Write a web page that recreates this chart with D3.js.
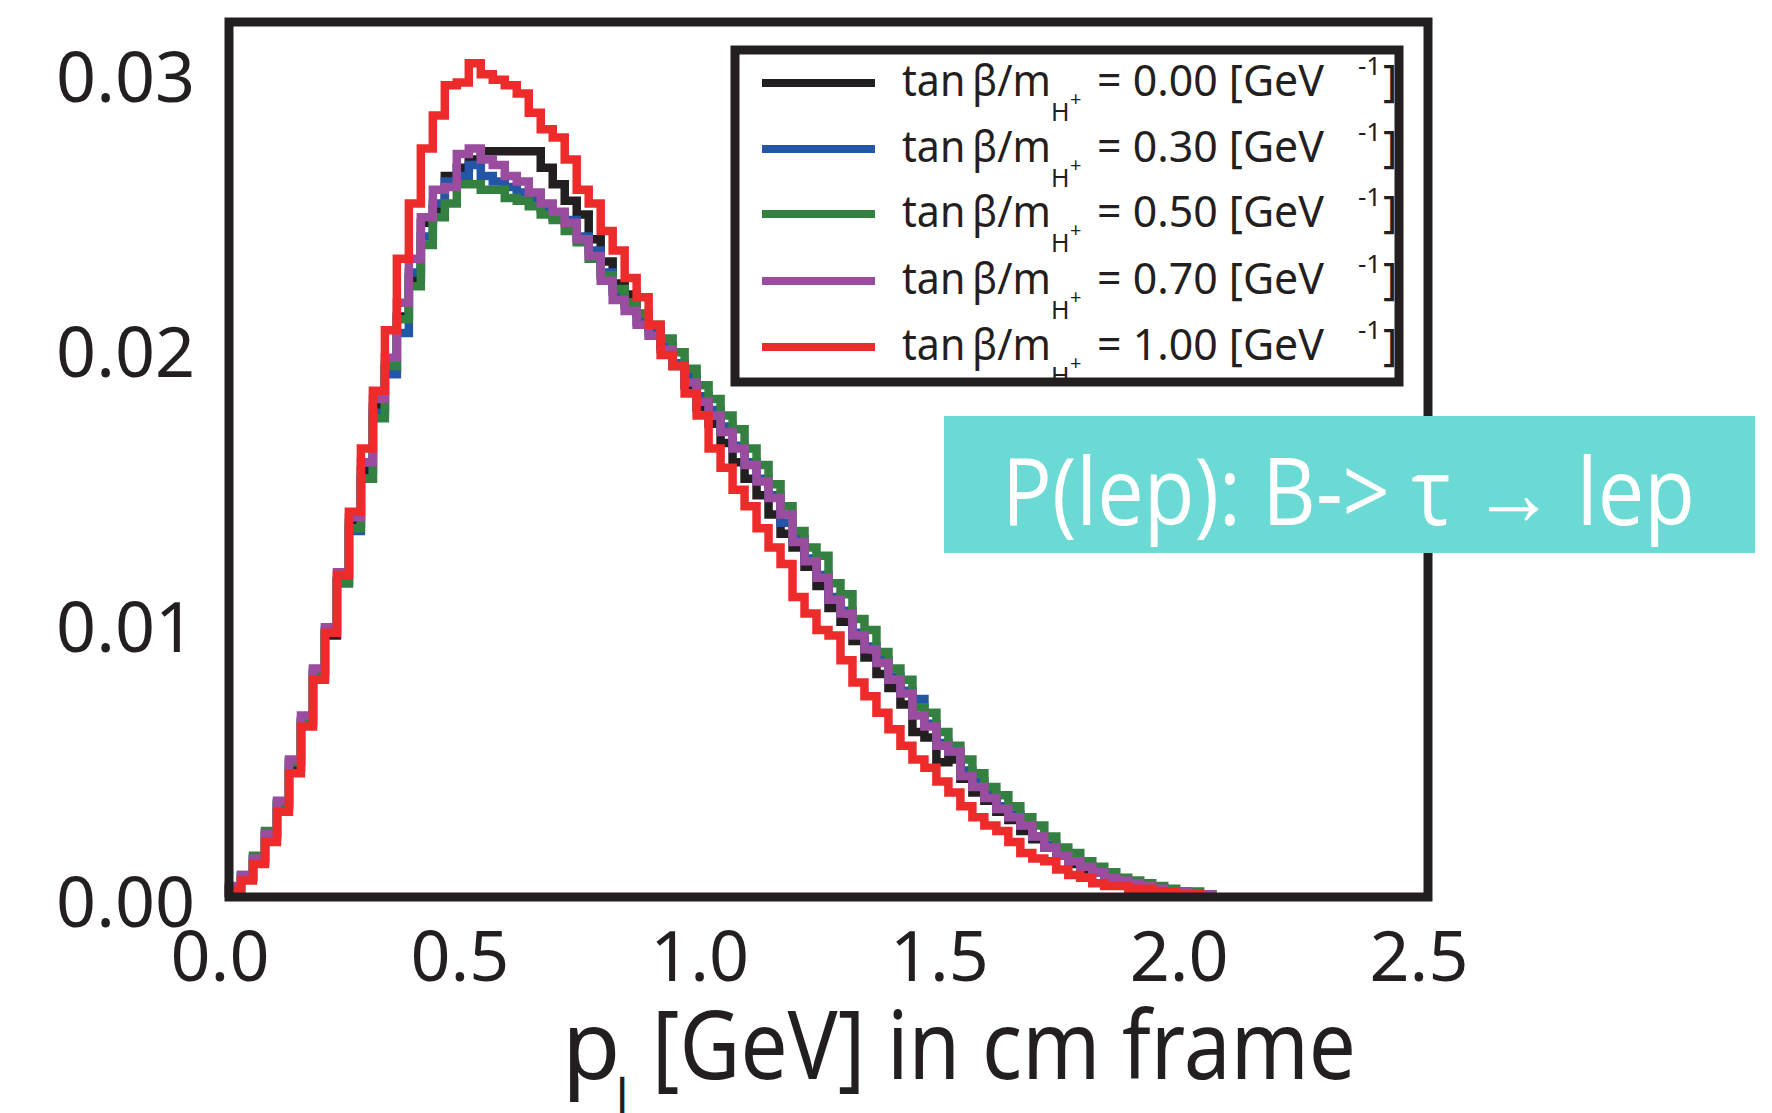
<!DOCTYPE html>
<html>
<head>
<meta charset="utf-8">
<script src="https://cdnjs.cloudflare.com/ajax/libs/d3/7.8.5/d3.min.js"></script>
<style>
  body { margin: 0; background: #fff; }
  svg { display: block; }
</style>
</head>
<body>
<div id="chart"></div>
<script>
'use strict';

// histogram bins: 0.025 GeV wide, starting at 0
const binWidth = 0.025;
const xTicks = [0, 0.5, 1.0, 1.5, 2.0, 2.5];
const yTicks = [0, 0.01, 0.02, 0.03];
const couplings = ['0.00', '0.30', '0.50', '0.70', '1.00'];
const colors = ['#231f20', '#2356a6', '#338041', '#9a4c9f', '#ee2b2b'];

// normalised p_l distributions, one per tanb/mH+
const h000 = [0.0003,0.0007,0.0013,0.0022,0.0033,0.0047,0.0063,0.0080,0.0095,0.0115,
  0.0136,0.0155,0.0178,0.0192,0.0211,0.0225,0.0245,0.0250,0.0262,0.0265,
  0.0268,0.0271,0.0271,0.0271,0.0271,0.0271,0.0265,0.0259,0.0253,0.0248,
  0.0239,0.0231,0.0223,0.0219,0.0212,0.0207,0.0200,0.0193,0.0186,0.0178,
  0.0172,0.0165,0.0158,0.0152,0.0146,0.0139,0.0132,0.0127,0.0120,0.0113,
  0.0105,0.0100,0.0093,0.0087,0.0081,0.0076,0.0070,0.0060,0.0058,0.0049,
  0.0050,0.0043,0.0038,0.0035,0.0031,0.0028,0.0024,0.0021,0.0018,0.0015,
  0.0012,0.0010,0.0009,0.0007,0.0005,0.0004,0.0003,0.0003,0.0002,0.0001,
  0.0001];
const h030 = [0.0003,0.0007,0.0014,0.0023,0.0034,0.0049,0.0064,0.0082,0.0097,0.0114,
  0.0133,0.0152,0.0176,0.0190,0.0205,0.0227,0.0240,0.0252,0.0260,0.0262,
  0.0266,0.0262,0.0260,0.0258,0.0256,0.0254,0.0250,0.0247,0.0246,0.0240,
  0.0235,0.0227,0.0220,0.0215,0.0209,0.0205,0.0200,0.0194,0.0189,0.0182,
  0.0177,0.0171,0.0164,0.0158,0.0152,0.0146,0.0136,0.0130,0.0123,0.0117,
  0.0109,0.0104,0.0096,0.0091,0.0086,0.0080,0.0075,0.0072,0.0063,0.0056,
  0.0053,0.0046,0.0042,0.0037,0.0033,0.0030,0.0026,0.0022,0.0019,0.0016,
  0.0013,0.0011,0.0009,0.0007,0.0006,0.0005,0.0004,0.0003,0.0002,0.0002,
  0.0001,0.0001];
const h050 = [0.0003,0.0008,0.0015,0.0024,0.0034,0.0049,0.0064,0.0081,0.0096,0.0114,
  0.0134,0.0152,0.0174,0.0193,0.0210,0.0222,0.0237,0.0247,0.0252,0.0259,
  0.0259,0.0257,0.0257,0.0254,0.0253,0.0251,0.0248,0.0246,0.0242,0.0238,
  0.0232,0.0226,0.0221,0.0216,0.0212,0.0208,0.0203,0.0198,0.0192,0.0186,
  0.0181,0.0175,0.0170,0.0163,0.0157,0.0150,0.0142,0.0133,0.0127,0.0124,
  0.0114,0.0110,0.0101,0.0097,0.0089,0.0083,0.0079,0.0069,0.0067,0.0060,
  0.0055,0.0050,0.0045,0.0040,0.0037,0.0033,0.0029,0.0026,0.0022,0.0018,
  0.0016,0.0013,0.0011,0.0009,0.0007,0.0006,0.0005,0.0004,0.0003,0.0002,
  0.0002,0.0001];
const h070 = [0.0004,0.0008,0.0014,0.0023,0.0035,0.0050,0.0066,0.0083,0.0098,0.0118,
  0.0138,0.0158,0.0181,0.0196,0.0216,0.0232,0.0247,0.0257,0.0258,0.0270,
  0.0272,0.0268,0.0266,0.0262,0.0260,0.0256,0.0252,0.0249,0.0245,0.0239,
  0.0233,0.0224,0.0217,0.0213,0.0208,0.0204,0.0199,0.0193,0.0187,0.0180,
  0.0175,0.0169,0.0163,0.0157,0.0151,0.0145,0.0139,0.0129,0.0122,0.0116,
  0.0108,0.0103,0.0095,0.0090,0.0085,0.0079,0.0074,0.0066,0.0062,0.0055,
  0.0053,0.0044,0.0040,0.0036,0.0032,0.0029,0.0026,0.0022,0.0018,0.0015,
  0.0013,0.0011,0.0009,0.0007,0.0006,0.0005,0.0004,0.0003,0.0002,0.0002,
  0.0001,0.0001];
const h100 = [0.00025,0.0006,0.0012,0.0020,0.0031,0.0045,0.0062,0.0079,0.0096,0.0117,
  0.0140,0.0163,0.0184,0.0206,0.0232,0.0252,0.0272,0.0284,0.0295,0.0296,
  0.0303,0.0299,0.0297,0.0295,0.0292,0.0285,0.0279,0.0276,0.0268,0.0257,
  0.0252,0.0242,0.0235,0.0225,0.0218,0.0208,0.0197,0.0193,0.0183,0.0175,
  0.0163,0.0156,0.0148,0.0142,0.0134,0.0127,0.0121,0.0109,0.0103,0.0097,
  0.0095,0.0086,0.0078,0.0073,0.0067,0.0061,0.0055,0.0050,0.0047,0.0042,
  0.0038,0.0033,0.0029,0.0026,0.0024,0.0020,0.0016,0.0014,0.0013,0.0010,
  0.0008,0.0007,0.0005,0.0004,0.0004,0.0003,0.0003,0.0002,0.0002,0.0001,
  0.0001];

const hists = [h000, h030, h050, h070, h100];

(function() {
    var W = 1772, H = 1113;
    var font = '"Noto Sans", "Open Sans", sans-serif';

    var svg = d3.select('#chart').append('svg')
        .attr('width', W)
        .attr('height', H);

    svg.append('rect').attr('width', W).attr('height', H).attr('fill', '#fff');

    var x = d3.scaleLinear().domain([0, 2.5]).range([229, 1428]);
    var y = d3.scaleLinear().domain([0, 0.0318]).range([897, 22]);

    // step outline for one histogram
    var line = d3.line()
        .x(function(d) { return x(d[0]); })
        .y(function(d) { return y(d[1]); })
        .curve(d3.curveStepAfter);

    function outline(vals) {
        var pts = [[0, 0]];
        vals.forEach(function(v, i) { pts.push([i * binWidth, v]); });
        pts.push([vals.length * binWidth, 0]);
        return pts;
    }

    var plot = svg.append('g');
    hists.forEach(function(vals, k) {
        plot.append('path')
            .attr('d', line(outline(vals)))
            .attr('fill', 'none')
            .attr('stroke', colors[k])
            .attr('stroke-width', 8.5)
            .attr('stroke-linejoin', 'miter')
            .attr('stroke-linecap', 'butt');
    });

    // frame
    svg.append('rect')
        .attr('x', x(0)).attr('y', y.range()[1])
        .attr('width', x(2.5) - x(0))
        .attr('height', y.range()[0] - y.range()[1])
        .attr('fill', 'none')
        .attr('stroke', '#231f20')
        .attr('stroke-width', 9);

    // tick labels
    svg.append('g').selectAll('text')
        .data(xTicks).enter().append('text')
        .attr('x', function(d) { return x(d) - 9; })
        .attr('y', 981)
        .attr('text-anchor', 'middle')
        .attr('font-family', font)
        .attr('font-size', 70)
        .attr('fill', '#231f20')
        .text(function(d) { return d3.format('.1f')(d); });

    svg.append('g').selectAll('text')
        .data(yTicks).enter().append('text')
        .attr('x', 195)
        .attr('y', function(d) { return y(d) + 30; })
        .attr('text-anchor', 'end')
        .attr('font-family', font)
        .attr('font-size', 70)
        .attr('fill', '#231f20')
        .text(function(d) { return d3.format('.2f')(d); });

    // x axis title
    var title = svg.append('g').attr('fill', '#231f20').attr('font-family', font);
    title.append('text').attr('x', 562).attr('y', 1079).attr('font-size', 95).text('p');
    title.append('text').attr('x', 616).attr('y', 1113).attr('font-size', 48).text('l');
    title.append('text').attr('x', 652).attr('y', 1079).attr('font-size', 95)
        .attr('textLength', 704).attr('lengthAdjust', 'spacingAndGlyphs')
        .text('[GeV] in cm frame');

    // legend
    var lg = svg.append('g');
    lg.append('rect')
        .attr('x', 735).attr('y', 50).attr('width', 664).attr('height', 332)
        .attr('fill', '#fff')
        .attr('stroke', '#231f20')
        .attr('stroke-width', 9);

    var rowY = [83, 149, 214, 281, 347];
    couplings.forEach(function(c, k) {
        var ly = rowY[k], b = ly + 12.5;
        var row = lg.append('g').attr('font-family', font).attr('fill', '#231f20');
        row.append('line')
            .attr('x1', 762).attr('x2', 875)
            .attr('y1', ly).attr('y2', ly)
            .attr('stroke', colors[k]).attr('stroke-width', 8);
        row.append('text').attr('x', 902).attr('y', b).attr('font-size', 44)
            .attr('textLength', 149).attr('lengthAdjust', 'spacingAndGlyphs')
            .text('tan\u2009\u03b2/m');
        row.append('text').attr('x', 1051).attr('y', b + 25).attr('font-size', 25).text('H');
        row.append('text').attr('x', 1070).attr('y', b + 10).attr('font-size', 20).text('+');
        row.append('text').attr('x', 1097).attr('y', b).attr('font-size', 44)
            .attr('textLength', 227).attr('lengthAdjust', 'spacingAndGlyphs')
            .text('= ' + c + ' [GeV');
        row.append('text').attr('x', 1358).attr('y', b - 21).attr('font-size', 26).text('-1');
        row.append('text').attr('x', 1383).attr('y', b).attr('font-size', 44).text(']');
    });

    // annotation box
    var note = svg.append('g');
    note.append('rect')
        .attr('x', 944).attr('y', 416).attr('width', 811).attr('height', 137)
        .attr('fill', '#6bdad4');
    note.append('text')
        .attr('x', 1002).attr('y', 525)
        .attr('font-family', '"Open Sans", "Noto Sans", sans-serif')
        .attr('font-weight', 400)
        .attr('font-size', 94)
        .attr('fill', '#fff')
        .attr('textLength', 693).attr('lengthAdjust', 'spacingAndGlyphs')
        .text('P(lep): B-> \u03c4 \u2192 lep');
})();
</script>
</body>
</html>
